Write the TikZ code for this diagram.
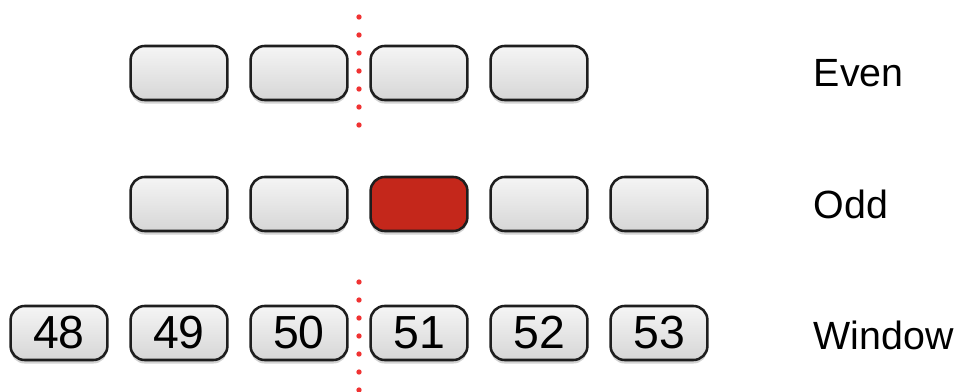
\documentclass[tikz,border=0pt]{standalone}
\usepackage{fontspec}
\setmainfont{Liberation Sans}
\usetikzlibrary{shadows}
\definecolor{boxred}{RGB}{196,39,27}
\definecolor{dotred}{RGB}{240,50,50}
\definecolor{boxline}{RGB}{30,30,30}
\tikzset{
  slot/.style={draw=boxline,line width=1.8pt,rounded corners=0.35cm,
    minimum width=2.42cm,minimum height=1.35cm,inner sep=0pt,
    top color=gray!8,bottom color=gray!32,
    drop shadow={shadow xshift=0pt,shadow yshift=-2.5pt,opacity=0.35}},
  hotslot/.style={slot,fill=boxred,top color=boxred,bottom color=boxred},
  rowlabel/.style={anchor=west,font=\fontsize{28}{30}\selectfont},
  splitline/.style={dotred,line width=3.8pt,line cap=round,dash pattern=on 0pt off 0.45cm}
}

\begin{document}
\begin{tikzpicture}
  \useasboundingbox (0,0) rectangle (24,9.775);
  % even row
  \foreach \i in {0,...,3}
    \node[slot] (even\i) at (4.475+3*\i,7.95) {};
  % odd row
  \foreach \i in {0,1,3,4}
    \node[slot] (odd\i) at (4.475+3*\i,4.675) {};
  \node[hotslot] (odd2) at (10.475,4.675) {};
  % window
  \foreach \n [count=\i from 0] in {48,49,50,51,52,53}
    \node[slot,font=\fontsize{33}{35}\selectfont] (win\n) at (1.475+3*\i,1.45) {\n};
  % split marks
  \coordinate (topA) at (8.975,9.35);
  \coordinate (topB) at (8.975,6.6);
  \coordinate (botA) at (8.975,2.725);
  \coordinate (botB) at (8.975,-0.2);
  \draw[splitline] (topA) -- (topB);
  \draw[splitline] (botA) -- (botB);
  \node[rowlabel] (lbleven) at (20.22,7.95) {Even};
  \node[rowlabel] (lblodd) at (20.22,4.675) {Odd};
  \node[rowlabel] (lblwin) at (20.22,1.4) {Window};
\end{tikzpicture}
\end{document}
